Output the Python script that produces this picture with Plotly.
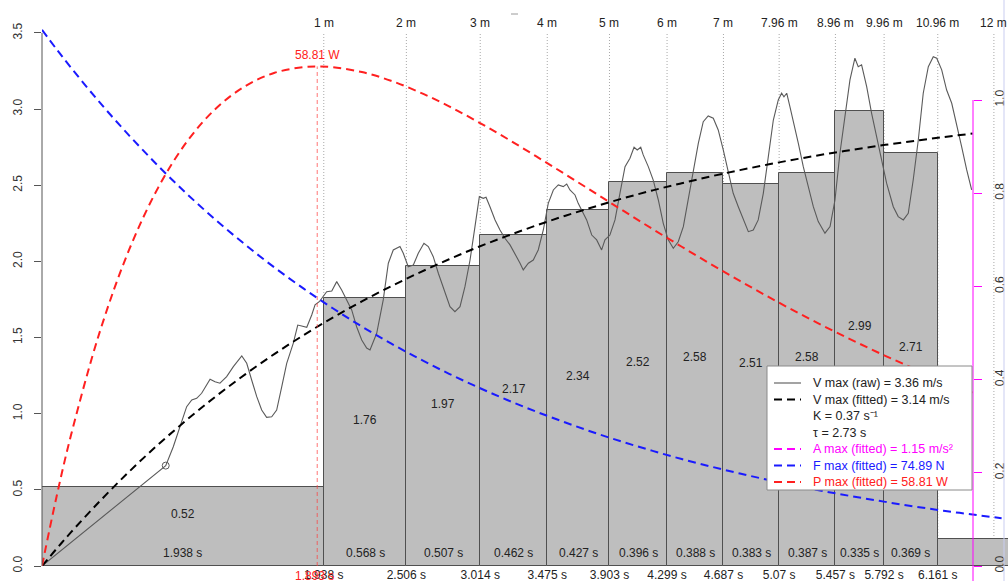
import plotly.graph_objects as go

# ---------------- data ----------------
split_times = [1.938, 2.506, 3.014, 3.475, 3.903, 4.299, 4.687, 5.07, 5.457, 5.792, 6.161, 6.547]
split_time_labels = ["1.938 s", "2.506 s", "3.014 s", "3.475 s", "3.903 s", "4.299 s",
                     "4.687 s", "5.07 s", "5.457 s", "5.792 s", "6.161 s", "6.547 s"]
split_dist_labels = ["1 m", "2 m", "3 m", "4 m", "5 m", "6 m", "7 m",
                     "7.96 m", "8.96 m", "9.96 m", "10.96 m", "12 m"]
bar_starts = [0.0, 1.938, 2.506, 3.014, 3.475, 3.903, 4.299, 4.687, 5.07, 5.457, 5.792, 6.161]
bar_ends = [1.938, 2.506, 3.014, 3.475, 3.903, 4.299, 4.687, 5.07, 5.457, 5.792, 6.161, 6.75]
seg_speed = [0.52, 1.76, 1.97, 2.17, 2.34, 2.52, 2.58, 2.51, 2.58, 2.99, 2.71, 0.18]
seg_speed_labels = ["0.52", "1.76", "1.97", "2.17", "2.34", "2.52", "2.58", "2.51", "2.58", "2.99", "2.71", ""]
seg_time_labels = ["1.938 s", "0.568 s", "0.507 s", "0.462 s", "0.427 s", "0.396 s",
                   "0.388 s", "0.383 s", "0.387 s", "0.335 s", "0.369 s", ""]

raw_t = [0.0, 0.851, 0.903, 0.949, 0.995, 1.030, 1.064, 1.098, 1.156, 1.190, 1.224, 1.270, 1.316,
         1.374, 1.408, 1.442, 1.477, 1.511, 1.545, 1.580, 1.614, 1.649, 1.683, 1.728, 1.759, 1.786,
         1.821, 1.855, 1.878, 1.907, 1.935, 1.958, 1.993, 2.027, 2.061, 2.096, 2.130, 2.164, 2.199,
         2.233, 2.256, 2.302, 2.347, 2.382, 2.416, 2.462, 2.485, 2.519, 2.554, 2.588, 2.627, 2.657,
         2.691, 2.726, 2.772, 2.806, 2.840, 2.875, 2.909, 2.944, 2.978, 3.008, 3.035, 3.054, 3.081,
         3.116, 3.150, 3.184, 3.219, 3.253, 3.288, 3.310, 3.345, 3.379, 3.413, 3.448, 3.482, 3.517,
         3.551, 3.585, 3.609, 3.631, 3.666, 3.688, 3.712, 3.746, 3.781, 3.815, 3.849, 3.872, 3.906,
         3.941, 3.975, 4.010, 4.044, 4.072, 4.094, 4.118, 4.135, 4.170, 4.204, 4.239, 4.273, 4.307,
         4.342, 4.376, 4.411, 4.445, 4.479, 4.514, 4.548, 4.582, 4.617, 4.651, 4.686, 4.720, 4.754,
         4.789, 4.823, 4.858, 4.892, 4.926, 4.961, 4.995, 5.030, 5.064, 5.087, 5.103, 5.122, 5.144,
         5.167, 5.202, 5.236, 5.270, 5.305, 5.339, 5.385, 5.420, 5.454, 5.488, 5.523, 5.557, 5.591,
         5.614, 5.637, 5.672, 5.706, 5.741, 5.775, 5.809, 5.855, 5.889, 5.924, 5.958, 5.992, 6.027,
         6.061, 6.096, 6.130, 6.154, 6.188, 6.222, 6.257, 6.291, 6.325, 6.360, 6.394]
raw_v = [0.0, 0.659, 0.783, 0.915, 1.046, 1.090, 1.101, 1.134, 1.226, 1.210, 1.200, 1.243, 1.309,
         1.379, 1.331, 1.221, 1.112, 1.024, 0.976, 0.980, 1.024, 1.177, 1.331, 1.462, 1.582, 1.576,
         1.567, 1.648, 1.714, 1.735, 1.768, 1.801, 1.806, 1.867, 1.812, 1.747, 1.681, 1.571, 1.484,
         1.431, 1.418, 1.528, 1.747, 1.988, 2.075, 2.097, 2.053, 1.965, 1.976, 2.053, 2.119, 2.097,
         2.031, 1.922, 1.791, 1.703, 1.670, 1.703, 1.834, 2.009, 2.228, 2.425, 2.414, 2.421, 2.359,
         2.272, 2.206, 2.152, 2.108, 2.053, 1.988, 1.944, 1.988, 2.009, 2.075, 2.206, 2.381, 2.469,
         2.502, 2.491, 2.508, 2.469, 2.436, 2.381, 2.338, 2.272, 2.173, 2.141, 2.075, 2.141, 2.173,
         2.272, 2.447, 2.622, 2.677, 2.749, 2.731, 2.749, 2.699, 2.622, 2.534, 2.403, 2.250, 2.141,
         2.086, 2.129, 2.228, 2.403, 2.600, 2.775, 2.917, 2.955, 2.940, 2.863, 2.731, 2.578, 2.447,
         2.359, 2.272, 2.195, 2.206, 2.272, 2.447, 2.687, 2.928, 3.060, 3.104, 3.081, 3.104, 3.016,
         2.928, 2.775, 2.622, 2.491, 2.359, 2.261, 2.185, 2.228, 2.403, 2.710, 2.972, 3.191, 3.334,
         3.278, 3.290, 3.147, 2.972, 2.819, 2.666, 2.513, 2.359, 2.294, 2.272, 2.316, 2.534, 2.797,
         3.104, 3.278, 3.344, 3.334, 3.257, 3.125, 3.038, 2.884, 2.753, 2.600, 2.469]
raw_start_marker_t = [0.851]
raw_start_marker_v = [0.659]

fit_t = [0.0, 0.1, 0.2, 0.4, 0.6, 0.8, 1.0, 1.2, 1.4, 1.6, 1.8, 2.0, 2.2, 2.4, 2.6, 2.8, 3.0,
         3.2, 3.4, 3.6, 3.8, 4.0, 4.2, 4.4, 4.6, 4.8, 5.0, 5.2, 5.4, 5.6, 5.8, 6.0, 6.2, 6.4]
fit_speed = [0.0, 0.113, 0.222, 0.428, 0.620, 0.798, 0.963, 1.117, 1.260, 1.393, 1.516, 1.631,
             1.737, 1.836, 1.928, 2.014, 2.094, 2.167, 2.236, 2.300, 2.359, 2.415, 2.466, 2.513,
             2.558, 2.599, 2.637, 2.673, 2.706, 2.736, 2.765, 2.791, 2.816, 2.839]
fit_force_t = fit_t + [6.6]
fit_force = [3.520, 3.393, 3.271, 3.040, 2.826, 2.626, 2.440, 2.268, 2.108, 1.959, 1.821, 1.692,
             1.572, 1.461, 1.358, 1.262, 1.173, 1.090, 1.013, 0.942, 0.875, 0.813, 0.756, 0.702,
             0.653, 0.607, 0.564, 0.524, 0.487, 0.453, 0.421, 0.391, 0.363, 0.338, 0.314]
fit_power_t = [0.0, 0.1, 0.2, 0.4, 0.6, 0.8, 1.0, 1.2, 1.4, 1.6, 1.8, 1.893, 2.0, 2.2, 2.4, 2.6,
               2.8, 3.0, 3.2, 3.4, 3.6, 3.8, 4.0, 4.2, 4.4, 4.6, 4.8, 5.0, 5.2, 5.4, 5.6, 5.8,
               6.0, 6.2, 6.4]
fit_power = [0.0, 0.455, 0.861, 1.545, 2.078, 2.486, 2.790, 3.007, 3.152, 3.238, 3.276, 3.280,
             3.275, 3.243, 3.186, 3.109, 3.018, 2.915, 2.805, 2.689, 2.571, 2.451, 2.331, 2.212,
             2.096, 1.982, 1.872, 1.765, 1.662, 1.564, 1.470, 1.380, 1.295, 1.214, 1.138]
pmax_time = 1.893
pmax_time_label = "1.893 s"
pmax_value = 3.28
pmax_label = "58.81 W"

left_ticks = [0.0, 0.5, 1.0, 1.5, 2.0, 2.5, 3.0, 3.5]
right_ticks = [0.0, 0.2, 0.4, 0.6, 0.8, 1.0]

legend_rows = [
    ("V max (raw) = 3.36 m/s", "#222222", "#666666", "solid"),
    ("V max (fitted) = 3.14 m/s", "#222222", "#000000", "dash"),
    ("K = 0.37 s⁻¹", "#222222", None, None),
    ("τ = 2.73 s", "#222222", None, None),
    ("A max (fitted) = 1.15 m/s²", "#ff00ff", "#ff00ff", "dash"),
    ("F max (fitted) = 74.89 N", "#1a1aff", "#1a1aff", "dash"),
    ("P max (fitted) = 58.81 W", "#ff2020", "#ff2020", "dash"),
]

# ---------------- geometry ----------------
W, H = 1008, 581
ML, MR, MT, MB = 42, 0, 0, 15
PW, PH = W - ML - MR, H - MT - MB
XMAX = 6.644
YMAX = 3.716
Y2MAX = 1.2146
FONT = "Arial, Liberation Sans, sans-serif"
DASH = "8px,5px"


def px2x(px):
    return (px - ML) / PW


def py2y(py):
    return (H - MB - py) / PH


widths = [e - s for s, e in zip(bar_starts, bar_ends)]
mids = [s + w / 2 for s, w in zip(bar_starts, widths)]

fig = go.Figure()

fig.add_trace(go.Bar(x=mids, y=seg_speed, width=widths, base=0,
                     marker=dict(color="#bebebe", line=dict(color="#505050", width=1)),
                     showlegend=False, hoverinfo="skip"))

fig.add_trace(go.Scatter(x=raw_t, y=raw_v, mode="lines",
                         line=dict(color="#5a5a5a", width=1.1), showlegend=False))
fig.add_trace(go.Scatter(x=raw_start_marker_t, y=raw_start_marker_v, mode="markers",
                         marker=dict(symbol="circle-open", size=7, color="#5a5a5a",
                                     line=dict(width=1)), showlegend=False))
fig.add_trace(go.Scatter(x=fit_t, y=fit_speed, mode="lines", line_shape="spline",
                         line=dict(color="#000000", width=2, dash=DASH), showlegend=False))
fig.add_trace(go.Scatter(x=fit_force_t, y=fit_force, mode="lines", line_shape="spline",
                         line=dict(color="#1a1aff", width=2, dash=DASH), showlegend=False))
fig.add_trace(go.Scatter(x=fit_power_t, y=fit_power, mode="lines", line_shape="spline",
                         line=dict(color="#ff2020", width=2, dash=DASH), showlegend=False))
# invisible trace to anchor the right axis
fig.add_trace(go.Scatter(x=[0], y=[0], yaxis="y2", mode="markers",
                         marker=dict(opacity=0), showlegend=False, hoverinfo="skip"))

shapes = []
annotations = []

# dotted split lines
for t in split_times:
    shapes.append(dict(type="line", xref="x", yref="y", x0=t, x1=t, y0=0, y1=3.5,
                       line=dict(color="#a8a8a8", width=1, dash="1px,2px"), layer="below"))
# red vertical at Pmax
shapes.append(dict(type="line", xref="x", yref="y", x0=pmax_time, x1=pmax_time, y0=0, y1=pmax_value,
                   line=dict(color="rgba(255,60,60,0.7)", width=1, dash="4px,3px"), layer="above"))
# left axis line
shapes.append(dict(type="line", xref="paper", yref="y", x0=0, x1=0, y0=0, y1=3.5,
                   line=dict(color="#555555", width=1)))
# right magenta axis line
xr = px2x(973)
shapes.append(dict(type="line", xref="paper", yref="paper", x0=xr, x1=xr,
                   y0=-0.03, y1=py2y(H - MB - 1.0 * PH / Y2MAX),
                   line=dict(color="#ff00ff", width=1)))
# faint frame line at right edge
shapes.append(dict(type="line", xref="paper", yref="paper", x0=px2x(1004), x1=px2x(1004),
                   y0=-0.03, y1=1, line=dict(color="#c9cdf0", width=1)))
# small stray mark at top
shapes.append(dict(type="line", xref="paper", yref="paper", x0=px2x(511), x1=px2x(518),
                   y0=py2y(14), y1=py2y(14), line=dict(color="#9a9a9a", width=1)))

# top distance labels
for t, lab in zip(split_times, split_dist_labels):
    annotations.append(dict(x=t, y=py2y(23), xref="x", yref="paper", yanchor="middle",
                            text=lab, showarrow=False,
                            font=dict(size=12, color="#222222", family=FONT)))

# bar labels
for m, v, sl, tl in zip(mids, seg_speed, seg_speed_labels, seg_time_labels):
    if sl:
        annotations.append(dict(x=m, y=v / 2 + 0.08, xref="x", yref="y", yanchor="middle",
                                text=sl, showarrow=False,
                                font=dict(size=12, color="#222222", family=FONT)))
    if tl:
        annotations.append(dict(x=m, y=0.085, xref="x", yref="y", yanchor="middle",
                                text=tl, showarrow=False,
                                font=dict(size=12, color="#222222", family=FONT)))

# Pmax labels
annotations.append(dict(x=pmax_time, y=3.355, xref="x", yref="y", yanchor="middle",
                        text=pmax_label, showarrow=False,
                        font=dict(size=12, color="#ff2020", family=FONT)))
annotations.append(dict(x=pmax_time - 0.02, y=0, xref="x", yref="paper", yanchor="top", yshift=-1,
                        text=pmax_time_label, showarrow=False,
                        font=dict(size=12, color="#ff2020", family=FONT)))

# legend box
shapes.append(dict(type="rect", xref="paper", yref="paper", x0=px2x(767), x1=px2x(972),
                   y0=py2y(490), y1=py2y(366), fillcolor="white",
                   line=dict(color="#8a8a8a", width=1), layer="above"))
row_y = [383, 399.5, 416, 432.5, 449, 465.5, 482]
for (txt, tcol, lcol, ldash), ry in zip(legend_rows, row_y):
    if lcol:
        shapes.append(dict(type="line", xref="paper", yref="paper", x0=px2x(774), x1=px2x(801),
                           y0=py2y(ry), y1=py2y(ry),
                           line=dict(color=lcol, width=2 if ldash == "dash" else 1.2,
                                     dash="8px,5px" if ldash == "dash" else "solid"),
                           layer="above"))
    annotations.append(dict(x=px2x(811), y=py2y(ry), xref="paper", yref="paper",
                            xanchor="left", yanchor="middle",
                            text=txt, showarrow=False,
                            font=dict(size=12.5, color=tcol, family=FONT)))

fig.update_layout(
    width=W, height=H,
    margin=dict(l=ML, r=MR, t=MT, b=MB, autoexpand=False),
    paper_bgcolor="white", plot_bgcolor="white",
    font=dict(family=FONT, size=12, color="#222222"),
    bargap=0,
    showlegend=False,
    xaxis=dict(range=[0, XMAX], showgrid=False, zeroline=False, showline=False, automargin=False,
               tickmode="array", tickvals=split_times, ticktext=split_time_labels,
               ticks="", tickfont=dict(size=12, color="#222222")),
    yaxis=dict(range=[0, YMAX], showgrid=False, zeroline=False, showline=False, automargin=False,
               tickmode="array", tickvals=left_ticks, tickformat=".1f",
               ticks="outside", ticklen=7, tickcolor="#555555", tickangle=-90,
               ticklabelstandoff=7, tickfont=dict(size=12, color="#333333")),
    yaxis2=dict(range=[0, Y2MAX], overlaying="y", anchor="free", position=xr, side="right",
                showgrid=False, zeroline=False, showline=False, automargin=False,
                tickmode="array", tickvals=right_ticks, tickformat=".1f",
                ticks="outside", ticklen=8, tickcolor="#ff00ff", tickangle=-90,
                ticklabelstandoff=8, tickfont=dict(size=12, color="#333333")),
    shapes=shapes,
    annotations=annotations,
)

fig.write_html(
    "out.html",
    config={"displayModeBar": False},
    post_script="document.body.style.margin='0';document.body.style.padding='0';"
                "document.body.style.overflow='hidden';",
)
